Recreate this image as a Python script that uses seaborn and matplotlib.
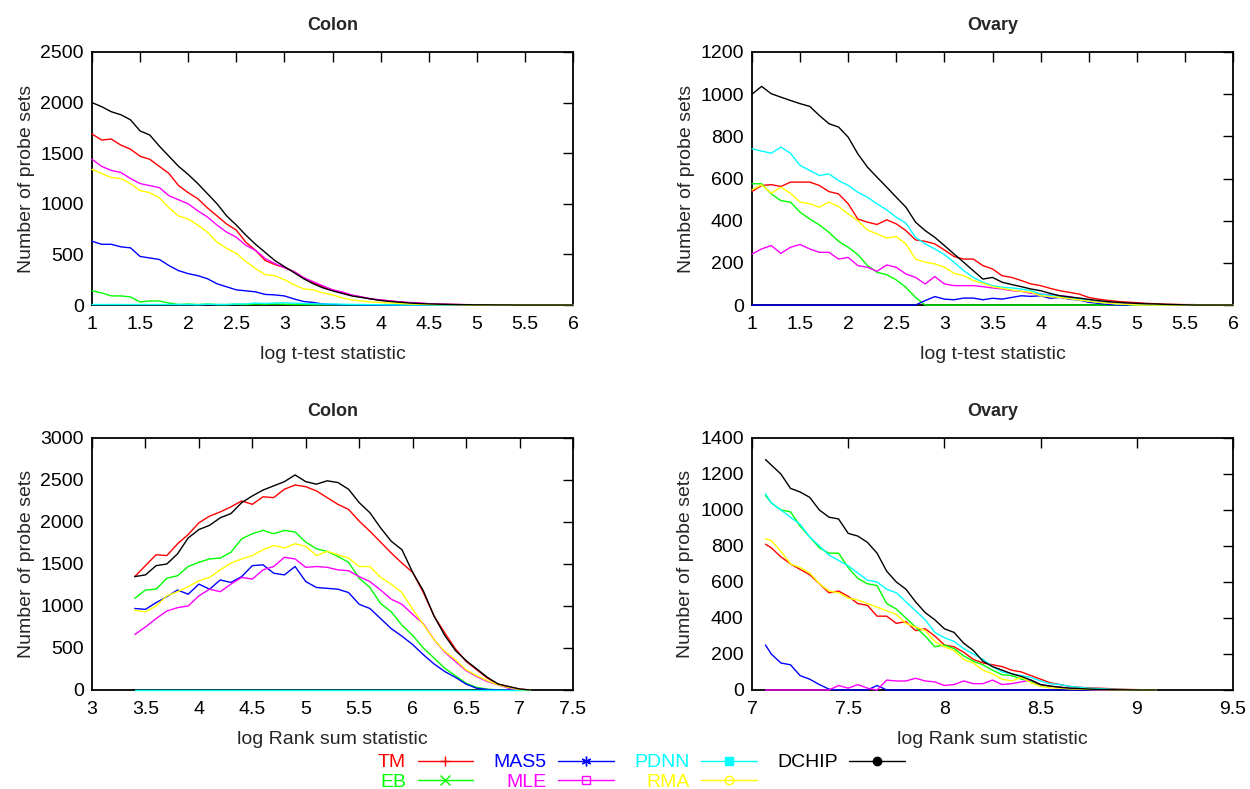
import numpy as np
import pandas as pd
import matplotlib
matplotlib.use("Agg")
import matplotlib.pyplot as plt
from matplotlib.lines import Line2D
import seaborn as sns

# ---------------- data ----------------
methods = ["TM", "EB", "MAS5", "MLE", "PDNN", "RMA", "DCHIP"]
colors = {"TM": "#ff0000", "EB": "#00ff00", "MAS5": "#0000ff", "MLE": "#ff00ff",
          "PDNN": "#00ffff", "RMA": "#ffff00", "DCHIP": "#000000"}
markers = {"TM": "+", "EB": "x", "MAS5": (6, 2, 0), "MLE": "s", "PDNN": "s",
           "RMA": "o", "DCHIP": "o"}
filled = {"TM": True, "EB": True, "MAS5": True, "MLE": False, "PDNN": True,
          "RMA": False, "DCHIP": True}

# Panel 1: Colon, log t-test statistic (x = 1.0 .. 6.0 step 0.1)
x_colon_t = np.round(np.arange(1.0, 6.001, 0.1), 2)
colon_t = {
    "TM": [1690, 1630, 1640, 1580, 1540, 1470, 1440, 1370, 1300, 1180,
           1110, 1050, 960, 880, 800, 740, 620, 540, 440, 400,
           370, 330, 270, 220, 180, 150, 120, 95, 80, 60,
           50, 40, 30, 22, 17, 12, 9, 7, 5, 3,
           2, 1, 1, 0, 0, 0, 0, 0, 0, 0, 0],
    "EB": [140, 120, 90, 90, 80, 30, 40, 40, 20, 5,
           10, 5, 10, 5, 5, 8, 5, 10, 8, 10,
           8, 5, 5, 3, 3, 2, 1, 0, 0, 0,
           0, 0, 0, 0, 0, 0, 0, 0, 0, 0,
           0, 0, 0, 0, 0, 0, 0, 0, 0, 0, 0],
    "MAS5": [630, 600, 600, 575, 565, 480, 465, 450, 390, 340,
             310, 290, 260, 210, 180, 150, 140, 130, 105, 100,
             90, 60, 35, 25, 10, 5, 3, 2, 1, 0,
             0, 0, 0, 0, 0, 0, 0, 0, 0, 0,
             0, 0, 0, 0, 0, 0, 0, 0, 0, 0, 0],
    "MLE": [1440, 1370, 1330, 1310, 1250, 1200, 1180, 1160, 1080, 1040,
            1000, 930, 870, 790, 720, 670, 590, 540, 460, 410,
            370, 330, 270, 230, 190, 150, 130, 100, 80, 60,
            50, 40, 32, 25, 20, 14, 10, 7, 5, 4,
            3, 2, 1, 0, 0, 0, 0, 0, 0, 0, 0],
    "PDNN": [5, 5, 5, 5, 5, 5, 5, 5, 5, 5,
             5, 3, 8, 5, 5, 10, 10, 20, 15, 20,
             22, 18, 15, 12, 10, 10, 8, 6, 5, 4,
             3, 2, 1, 0, 0, 0, 0, 0, 0, 0,
             0, 0, 0, 0, 0, 0, 0, 0, 0, 0, 0],
    "RMA": [1340, 1300, 1260, 1250, 1200, 1130, 1110, 1060, 960, 880,
            850, 790, 720, 620, 560, 510, 430, 360, 300, 290,
            250, 200, 160, 150, 120, 100, 70, 50, 40, 30,
            25, 20, 15, 10, 8, 5, 4, 3, 2, 1,
            0, 0, 0, 0, 0, 0, 0, 0, 0, 0, 0],
    "DCHIP": [2000, 1960, 1910, 1880, 1830, 1720, 1680, 1570, 1470, 1370,
              1290, 1200, 1100, 1000, 880, 790, 690, 600, 520, 440,
              380, 320, 260, 210, 170, 140, 115, 90, 75, 60,
              45, 35, 28, 20, 15, 11, 8, 6, 4, 3,
              2, 2, 1, 1, 0, 0, 0, 0, 0, 0, 0],
}

# Panel 2: Ovary, log t-test statistic (x = 1.0 .. 6.0 step 0.1)
x_ovary_t = np.round(np.arange(1.0, 6.001, 0.1), 2)
ovary_t = {
    "TM": [538, 567, 571, 562, 583, 583, 583, 567, 538, 527,
           480, 408, 393, 382, 404, 385, 353, 309, 302, 290,
           261, 230, 218, 218, 187, 171, 139, 131, 116, 100,
           92, 79, 68, 60, 52, 36, 28, 22, 17, 14,
           11, 8, 6, 4, 3, 2, 2, 0, 0, 0, 0],
    "EB": [575, 575, 527, 495, 488, 440, 408, 380, 345, 302,
           274, 239, 187, 155, 144, 119, 84, 36, 0, 0,
           0, 0, 0, 0, 0, 0, 0, 0, 0, 0,
           0, 0, 0, 0, 0, 0, 0, 0, 0, 0,
           0, 0, 0, 0, 0, 0, 0, 0, 0, 0, 0],
    "MAS5": [0, 0, 0, 0, 0, 0, 0, 0, 0, 0,
             0, 0, 0, 0, 0, 0, 0, 0, 21, 40,
             28, 25, 33, 33, 25, 32, 28, 36, 44, 41,
             44, 32, 36, 28, 24, 13, 8, 3, 0, 0,
             0, 0, 0, 0, 0, 0, 0, 0, 0, 0, 0],
    "MLE": [242, 266, 282, 245, 274, 287, 266, 250, 250, 218,
            226, 187, 179, 160, 190, 179, 147, 131, 100, 135,
            100, 92, 92, 92, 87, 81, 76, 68, 65, 55,
            52, 48, 44, 40, 30, 21, 15, 11, 8, 5,
            5, 3, 2, 1, 0, 0, 0, 0, 0, 0, 0],
    "PDNN": [741, 730, 720, 749, 720, 662, 638, 614, 622, 590,
             567, 535, 511, 480, 451, 416, 388, 321, 290, 266,
             239, 203, 163, 131, 108, 92, 84, 81, 76, 68,
             52, 46, 40, 34, 28, 20, 13, 9, 5, 3,
             0, 0, 0, 0, 0, 0, 0, 0, 0, 0, 0],
    "RMA": [546, 570, 530, 559, 530, 488, 480, 464, 488, 467,
            432, 400, 356, 337, 318, 324, 290, 218, 203, 195,
            179, 150, 139, 116, 103, 87, 79, 71, 65, 60,
            44, 40, 36, 30, 24, 18, 13, 9, 5, 3,
            0, 0, 0, 0, 0, 0, 0, 0, 0, 0, 0],
    "DCHIP": [1000, 1037, 1002, 986, 970, 955, 942, 899, 860, 844,
              796, 717, 654, 606, 559, 511, 464, 393, 353, 321,
              282, 242, 203, 163, 123, 131, 108, 97, 87, 76,
              68, 55, 44, 38, 33, 27, 21, 16, 13, 10,
              8, 6, 5, 3, 2, 1, 0, 0, 0, 0, 0],
}

# Panel 3: Colon, log rank sum statistic (x = 3.4 .. 7.1 step 0.1)
x_colon_r = np.round(np.arange(3.4, 7.101, 0.1), 2)
colon_r = {
    "TM": [1350, 1480, 1610, 1600, 1740, 1850, 1990, 2070, 2120, 2180,
           2250, 2210, 2300, 2290, 2390, 2440, 2420, 2370, 2290, 2210,
           2150, 2010, 1890, 1760, 1630, 1510, 1400, 1160, 880, 680,
           490, 340, 240, 140, 70, 40, 10, 0],
    "EB": [1090, 1190, 1200, 1330, 1360, 1470, 1520, 1560, 1570, 1640,
           1800, 1860, 1900, 1860, 1900, 1880, 1760, 1680, 1650, 1590,
           1520, 1330, 1220, 1030, 930, 770, 650, 500, 380, 260,
           170, 80, 30, 10, 0, 0, 0, 0],
    "MAS5": [970, 960, 1040, 1110, 1190, 1140, 1260, 1200, 1310, 1280,
             1350, 1480, 1490, 1390, 1370, 1470, 1290, 1220, 1210, 1200,
             1160, 1020, 970, 850, 730, 640, 540, 420, 310, 220,
             150, 70, 20, 5, 0, 0, 0, 0],
    "MLE": [660, 750, 850, 940, 980, 1000, 1120, 1200, 1170, 1260,
            1340, 1320, 1430, 1470, 1580, 1560, 1460, 1470, 1460, 1430,
            1420, 1350, 1290, 1190, 1080, 1020, 900, 790, 600, 450,
            340, 230, 160, 100, 60, 20, 0, 0],
    "PDNN": [0, 0, 0, 0, 0, 0, 0, 0, 0, 0,
             0, 0, 0, 0, 0, 0, 0, 0, 0, 0,
             0, 0, 0, 0, 0, 0, 0, 0, 0, 0,
             0, 0, 0, 0, 0, 0, 0, 0],
    "RMA": [950, 930, 1000, 1120, 1170, 1230, 1300, 1340, 1430, 1510,
            1560, 1600, 1670, 1720, 1690, 1740, 1710, 1600, 1650, 1610,
            1570, 1470, 1470, 1340, 1260, 1160, 960, 780, 600, 460,
            360, 240, 170, 110, 60, 30, 5, 0],
    "DCHIP": [1350, 1370, 1480, 1500, 1620, 1810, 1910, 1960, 2050, 2100,
              2230, 2310, 2380, 2430, 2480, 2560, 2480, 2450, 2490, 2470,
              2390, 2230, 2110, 1930, 1770, 1670, 1400, 1180, 880, 650,
              470, 350, 250, 150, 70, 40, 12, 0],
}

# Panel 4: Ovary, log rank sum statistic (x = 7.07, then 7.1 .. 9.1 step 0.05)
x_ovary_r = np.round(np.concatenate([[7.07], np.arange(7.1, 9.101, 0.05)]), 3)
ovary_r = {
    "TM": [810, 790, 740, 700, 670, 640, 590, 540, 550, 520,
           480, 470, 410, 410, 370, 380, 330, 340, 300, 250,
           240, 210, 170, 150, 140, 130, 110, 100, 80, 60,
           40, 30, 20, 15, 12, 10, 8, 5, 3, 2,
           1, 0],
    "EB": [1080, 1040, 1000, 990, 910, 850, 790, 760, 760, 680,
           620, 590, 580, 480, 450, 400, 350, 300, 240, 250,
           230, 190, 160, 140, 110, 85, 80, 60, 50, 25,
           20, 15, 10, 8, 5, 3, 2, 1, 0, 0,
           0, 0],
    "MAS5": [250, 200, 150, 140, 80, 60, 30, 5, 0, 0,
             0, 0, 25, 0, 0, 0, 0, 0, 0, 0,
             0, 0, 0, 0, 0, 0, 0, 0, 0, 0,
             0, 0, 0, 0, 0, 0, 0, 0, 0, 0,
             0, 0],
    "MLE": [0, 0, 0, 0, 0, 0, 0, 0, 25, 10,
            30, 10, 0, 55, 50, 50, 65, 50, 45, 25,
            30, 50, 35, 35, 55, 30, 35, 45, 55, 30,
            20, 15, 10, 5, 3, 0, 0, 0, 0, 0,
            0, 0],
    "PDNN": [1090, 1040, 1000, 960, 920, 850, 800, 750, 720, 690,
             650, 610, 600, 560, 540, 490, 440, 390, 320, 290,
             270, 230, 200, 170, 130, 100, 90, 80, 70, 50,
             35, 30, 20, 15, 10, 8, 5, 3, 2, 0,
             0, 0],
    "RMA": [840, 830, 770, 700, 680, 650, 590, 550, 540, 510,
            500, 480, 460, 440, 420, 370, 350, 330, 270, 240,
            220, 170, 150, 110, 90, 60, 50, 70, 40, 20,
            12, 10, 6, 5, 3, 2, 1, 0, 0, 0,
            0, 0],
    "DCHIP": [1280, 1250, 1200, 1120, 1100, 1070, 1000, 960, 950, 870,
              855, 820, 760, 660, 600, 560, 490, 430, 390, 340,
              320, 260, 220, 160, 130, 110, 90, 75, 55, 30,
              22, 15, 10, 8, 5, 3, 2, 1, 1, 0,
              0, 0],
}

panels = [
    ("Colon", "log t-test statistic", x_colon_t, colon_t, (1, 6), np.arange(1, 6.01, 0.5), (0, 2500), np.arange(0, 2501, 500)),
    ("Ovary", "log t-test statistic", x_ovary_t, ovary_t, (1, 6), np.arange(1, 6.01, 0.5), (0, 1200), np.arange(0, 1201, 200)),
    ("Colon", "log Rank sum statistic", x_colon_r, colon_r, (3, 7.5), np.arange(3, 7.51, 0.5), (0, 3000), np.arange(0, 3001, 500)),
    ("Ovary", "log Rank sum statistic", x_ovary_r, ovary_r, (7, 9.5), np.arange(7, 9.51, 0.5), (0, 1400), np.arange(0, 1401, 200)),
]

# ---------------- style ----------------
sns.set_theme(style="white")
plt.rcParams["font.family"] = ["Liberation Sans", "DejaVu Sans"]

fig = plt.figure(figsize=(12.5, 7.89), dpi=100)
rects = [
    [0.0736, 0.6134, 0.3848, 0.3207],
    [0.6016, 0.6134, 0.3848, 0.3207],
    [0.0736, 0.1255, 0.3848, 0.3194],
    [0.6016, 0.1255, 0.3848, 0.3194],
]


def fmt(v):
    return ("%g" % v)


for rect, (title, xlabel, xs, series, xlim, xt, ylim, yt) in zip(rects, panels):
    ax = fig.add_axes(rect)
    rows = []
    for m in methods:
        for xv, yv in zip(xs, series[m]):
            rows.append((m, xv, yv))
    df = pd.DataFrame(rows, columns=["method", "x", "y"])
    for m in methods:
        sub = df[df["method"] == m]
        sns.lineplot(data=sub, x="x", y="y", ax=ax, color=colors[m], lw=1.0,
                     legend=False, zorder=3, clip_on=False)
    ax.set_xlim(*xlim)
    ax.set_ylim(*ylim)
    ax.set_xticks(xt)
    ax.set_xticklabels([fmt(v) for v in xt])
    ax.set_yticks(yt)
    ax.set_yticklabels([fmt(v) for v in yt])
    ax.tick_params(direction="in", top=True, right=True, length=7, width=1.0,
                   labelsize=14, pad=6, colors="black")
    ax.tick_params(axis="x", pad=8)
    for s in ax.spines.values():
        s.set_color("black")
        s.set_linewidth(1.3)
        s.set_visible(True)
    ax.set_title(title, fontsize=13, fontweight="bold", pad=16)
    ax.set_xlabel(xlabel, fontsize=14, labelpad=9)
    ax.set_ylabel("Number of probe sets", fontsize=14, labelpad=4)
    ax.grid(False)
    ax.set_facecolor("white")

msize = {"TM": 7, "EB": 6.5, "MAS5": 7, "MLE": 5.5, "PDNN": 6, "RMA": 6, "DCHIP": 6}
handles = []
for m in methods:
    handles.append(Line2D([], [], color=colors[m], lw=1.0, marker=markers[m],
                          markersize=msize[m],
                          markerfacecolor=colors[m] if filled[m] else "none",
                          markeredgecolor=colors[m], markeredgewidth=1.0))
leg = fig.legend(handles, methods, loc="center", bbox_to_anchor=(0.513, 0.021),
                 ncol=4, frameon=False, markerfirst=False, numpoints=1,
                 handlelength=2.85, handletextpad=0.6, columnspacing=1.05,
                 labelspacing=0.1, fontsize=14, labelcolor="linecolor")

fig.savefig("out.png", dpi=100, facecolor="white")
